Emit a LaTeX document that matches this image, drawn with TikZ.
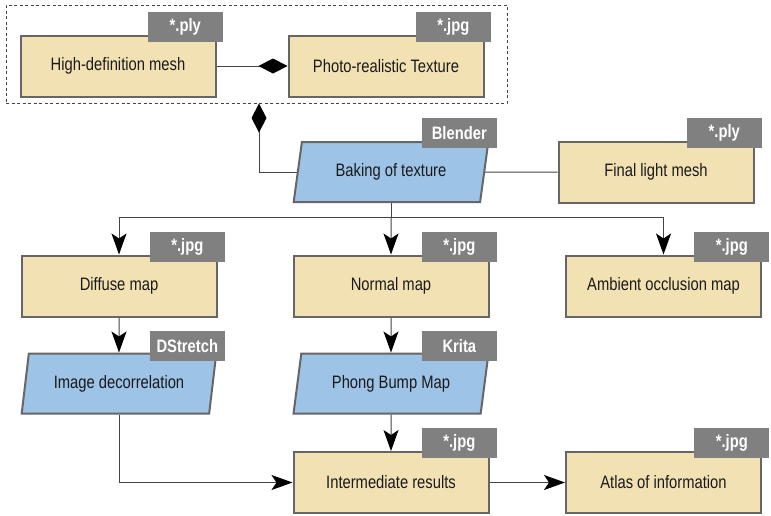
\documentclass[tikz,border=0pt]{standalone}
\usepackage{fontspec}
\setmainfont[FakeStretch=0.82]{Liberation Sans}
\usetikzlibrary{arrows.meta,shapes.geometric,calc}
\definecolor{boxfill}{HTML}{F2E1B3}
\definecolor{procblue}{HTML}{9DC3E6}
\definecolor{bordergray}{HTML}{666666}
\definecolor{taggray}{HTML}{808080}
\definecolor{linegray}{HTML}{444444}
\definecolor{txt}{HTML}{1A1A1A}
\begin{document}
\begin{tikzpicture}[x=1pt,y=-1pt,
  lbl/.style={font=\fontsize{18}{21}\selectfont, text=txt},
  box/.style={lbl, draw=bordergray, line width=2pt, fill=boxfill, minimum width=195pt, minimum height=61pt},
  para/.style={lbl, trapezium, trapezium left angle=77, trapezium right angle=103, trapezium stretches=true, draw=bordergray, line width=2pt, fill=procblue, minimum width=195pt, minimum height=60pt},
  tag/.style={fill=taggray, text=white, font=\bfseries\fontsize{18}{21}\selectfont, minimum width=75pt, minimum height=30pt, inner sep=0pt, anchor=north east},
  conn/.style={draw=linegray, line width=1pt},
  arr/.style={conn, -{Stealth[length=21pt,width=15pt,inset=5pt,color=black]}},
  dia/.style={conn, -{Diamond[length=29pt,width=15pt,color=black]}},
  group/.style={draw=linegray, dash pattern=on 3pt off 2.5pt, line width=1pt, minimum width=501pt, minimum height=98pt, inner sep=0pt}
]
\useasboundingbox (0,0) rectangle (771,515);
\node[group] (grp) at (256.5,54) {};

\node[box] (hd) at (118,66) {High-definition mesh};
\node[box] (photo) at (386,66) {Photo-realistic Texture};
\node[para] (bake) at (391,172) {Baking of texture};
\node[box] (final) at (656,172) {Final light mesh};
\node[box] (diffuse) at (119,286) {Diffuse map};
\node[box] (normal) at (391,286) {Normal map};
\node[box] (ao) at (663.5,286) {Ambient occlusion map};
\node[para] (decor) at (119,383.5) {Image decorrelation};
\node[para] (phong) at (391,383.5) {Phong Bump Map};
\node[box] (inter) at (391,482.5) {Intermediate results};
\node[box] (atlas) at (663.5,482.5) {Atlas of information};

\node[tag] (hdtag) at ($(hd.north)+(105pt,23pt)$) {*.ply};
\node[tag] (phototag) at ($(photo.north)+(105pt,23pt)$) {*.jpg};
\node[tag] (baketag) at ($(bake.north)+(106pt,23pt)$) {Blender};
\node[tag] (finaltag) at ($(final.north)+(106pt,23pt)$) {*.ply};
\node[tag] (diffusetag) at ($(diffuse.north)+(106pt,23pt)$) {*.jpg};
\node[tag] (normaltag) at ($(normal.north)+(106pt,23pt)$) {*.jpg};
\node[tag] (aotag) at ($(ao.north)+(106pt,23pt)$) {*.jpg};
\node[tag] (decortag) at ($(decor.north)+(106pt,22pt)$) {DStretch};
\node[tag] (phongtag) at ($(phong.north)+(106pt,22pt)$) {Krita};
\node[tag] (intertag) at ($(inter.north)+(106pt,23pt)$) {*.jpg};
\node[tag] (atlastag) at ($(atlas.north)+(106pt,23pt)$) {*.jpg};

\draw[dia] (hd.east) -- (photo.west);
\draw[dia] (bake.west) -| ([xshift=2.5pt]grp.south);
\draw[conn] (bake.east) -- (final.west);
\coordinate (split) at (bake.south |- 0,217);
\draw[conn] (bake.south) -- (split);
\draw[arr] (split) -| (diffuse.north);
\draw[arr] (split) -- (normal.north);
\draw[arr] (split) -| (ao.north);
\draw[arr] (diffuse.south) -- (decor.north);
\draw[arr] (normal.south) -- (phong.north);
\draw[arr] (phong.south) -- (inter.north);
\draw[arr] (decor.south) |- (inter.west);
\draw[arr] (inter.east) -- (atlas.west);
\end{tikzpicture}
\end{document}
